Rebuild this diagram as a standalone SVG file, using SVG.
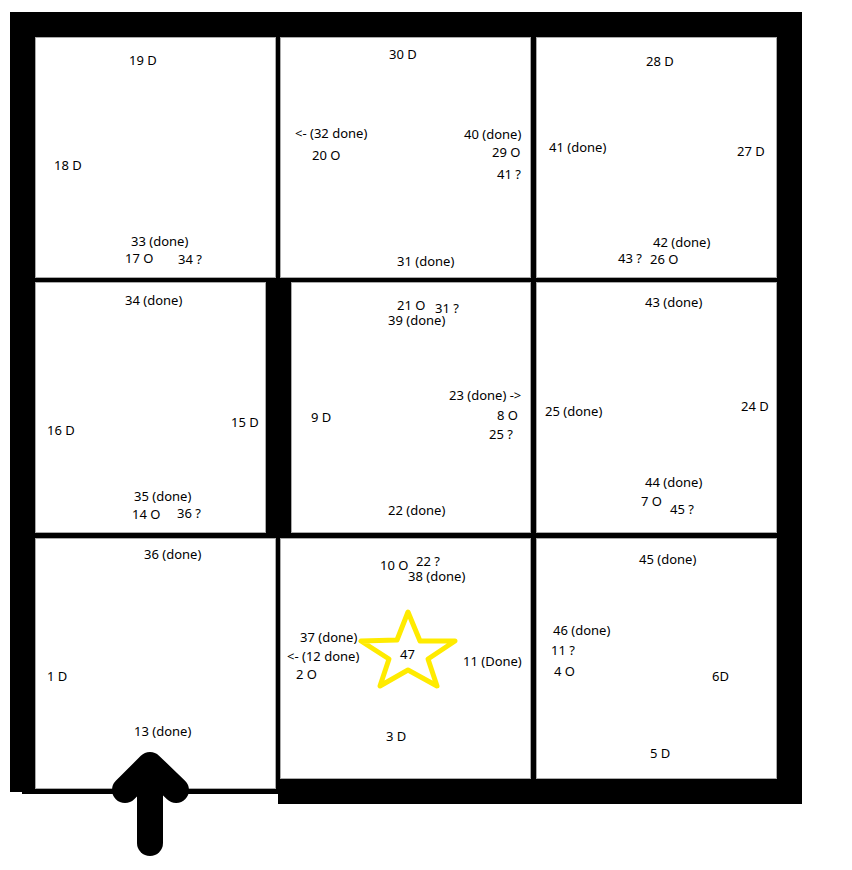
<svg xmlns="http://www.w3.org/2000/svg" width="852" height="870" viewBox="0 0 852 870">
<style>
text{font-family:"Noto Sans","Open Sans","Liberation Sans",sans-serif;font-size:13px;fill:#000}
.r{fill:#fff;stroke:#aaa;stroke-width:1}
</style>
<rect width="852" height="870" fill="#fff"/>
<rect x="10" y="12" width="792" height="780" fill="#000"/>
<rect x="278" y="779" width="524" height="25" fill="#000"/>
<rect x="22" y="789" width="256" height="5" fill="#000"/>
<g id="rooms">
<rect class="r" x="35.5" y="37.5" width="240" height="240"/>
<rect class="r" x="280.5" y="37.5" width="250" height="240"/>
<rect class="r" x="536.5" y="37.5" width="240" height="240"/>
<rect class="r" x="35.5" y="282.5" width="230" height="250"/>
<rect class="r" x="291.5" y="282.5" width="239" height="250"/>
<rect class="r" x="536.5" y="282.5" width="240" height="250"/>
<rect class="r" x="35.5" y="538.5" width="240" height="250"/>
<rect class="r" x="280.5" y="538.5" width="250" height="240"/>
<rect class="r" x="536.5" y="538.5" width="240" height="240"/>
</g>
<g id="entrance-arrow" fill="none" stroke="#000" stroke-linecap="round" stroke-linejoin="round">
<path d="M150 843V770" stroke-width="26"/>
<path d="M125 790L150 765L176 790" stroke-width="26"/>
</g>
<polygon id="star" points="408,612 420,641 455,641 428,659 437,686 408,670 380,686 389,659 361,641 397,640" fill="none" stroke="#ffeb00" stroke-width="5" stroke-linejoin="round"/>
<g id="labels">
<text x="129" y="65">19 D</text>
<text x="54" y="170">18 D</text>
<text x="131" y="246">33 (done)</text>
<text x="125" y="263">17 O</text>
<text x="178" y="264">34 ?</text>
<text x="389" y="59">30 D</text>
<text x="295" y="138">&lt;- (32 done)</text>
<text x="312" y="160">20 O</text>
<text x="464" y="139">40 (done)</text>
<text x="492" y="157">29 O</text>
<text x="497" y="179">41 ?</text>
<text x="397" y="266">31 (done)</text>
<text x="646" y="66">28 D</text>
<text x="549" y="152">41 (done)</text>
<text x="737" y="156">27 D</text>
<text x="653" y="247">42 (done)</text>
<text x="618" y="263">43 ?</text>
<text x="650" y="264">26 O</text>
<text x="125" y="305">34 (done)</text>
<text x="47" y="435">16 D</text>
<text x="231" y="427">15 D</text>
<text x="134" y="501">35 (done)</text>
<text x="132" y="519">14 O</text>
<text x="177" y="518">36 ?</text>
<text x="397" y="310">21 O</text>
<text x="435" y="313">31 ?</text>
<text x="388" y="325">39 (done)</text>
<text x="449" y="400">23 (done) -&gt;</text>
<text x="497" y="420">8 O</text>
<text x="489" y="439">25 ?</text>
<text x="311" y="422">9 D</text>
<text x="388" y="515">22 (done)</text>
<text x="645" y="307">43 (done)</text>
<text x="545" y="416">25 (done)</text>
<text x="741" y="411">24 D</text>
<text x="645" y="487">44 (done)</text>
<text x="641" y="506">7 O</text>
<text x="670" y="514">45 ?</text>
<text x="144" y="559">36 (done)</text>
<text x="47" y="681">1 D</text>
<text x="134" y="736">13 (done)</text>
<text x="380" y="570">10 O</text>
<text x="416" y="566">22 ?</text>
<text x="408" y="581">38 (done)</text>
<text x="300" y="642">37 (done)</text>
<text x="287" y="661">&lt;- (12 done)</text>
<text x="296" y="679">2 O</text>
<text x="400" y="659">47</text>
<text x="463" y="666">11 (Done)</text>
<text x="386" y="741">3 D</text>
<text x="639" y="564">45 (done)</text>
<text x="553" y="635">46 (done)</text>
<text x="551" y="655">11 ?</text>
<text x="554" y="676">4 O</text>
<text x="712" y="681">6D</text>
<text x="650" y="758">5 D</text>
</g>
</svg>
